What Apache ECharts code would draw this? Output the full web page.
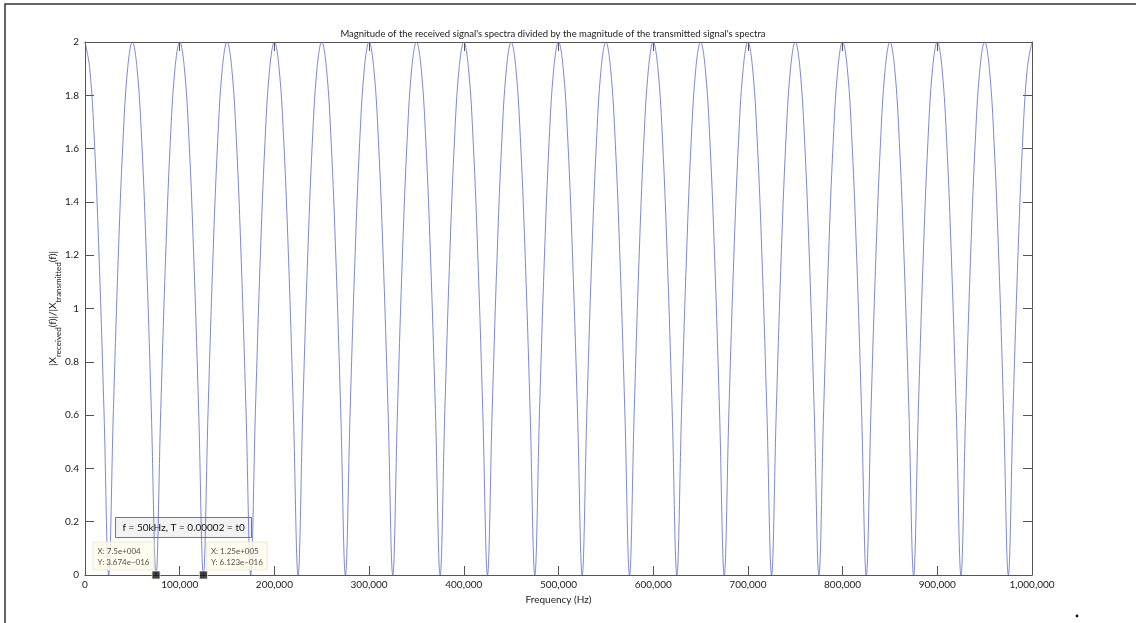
<!DOCTYPE html>
<html>
<head>
<meta charset="utf-8">
<script src="https://cdn.jsdelivr.net/npm/echarts@6/dist/echarts.min.js"></script>
<style>html,body{margin:0;padding:0;background:#fff}#c{width:1136px;height:623px}</style>
</head>
<body>
<div id="c"></div>
<script>
const titleText = "Magnitude of the received signal's spectra divided by the magnitude of the transmitted signal's spectra";
const xTickValues = [0, 100000, 200000, 300000, 400000, 500000, 600000, 700000, 800000, 900000, 1000000];
const yTickValues = [0, 0.2, 0.4, 0.6, 0.8, 1, 1.2, 1.4, 1.6, 1.8, 2];
const freqHz = [
  0,5000,10000,15000,20000,25000,30000,35000,40000,45000,
  50000,55000,60000,65000,70000,75000,80000,85000,90000,95000,
  100000,105000,110000,115000,120000,125000,130000,135000,140000,145000,
  150000,155000,160000,165000,170000,175000,180000,185000,190000,195000,
  200000,205000,210000,215000,220000,225000,230000,235000,240000,245000,
  250000,255000,260000,265000,270000,275000,280000,285000,290000,295000,
  300000,305000,310000,315000,320000,325000,330000,335000,340000,345000,
  350000,355000,360000,365000,370000,375000,380000,385000,390000,395000,
  400000,405000,410000,415000,420000,425000,430000,435000,440000,445000,
  450000,455000,460000,465000,470000,475000,480000,485000,490000,495000,
  500000,505000,510000,515000,520000,525000,530000,535000,540000,545000,
  550000,555000,560000,565000,570000,575000,580000,585000,590000,595000,
  600000,605000,610000,615000,620000,625000,630000,635000,640000,645000,
  650000,655000,660000,665000,670000,675000,680000,685000,690000,695000,
  700000,705000,710000,715000,720000,725000,730000,735000,740000,745000,
  750000,755000,760000,765000,770000,775000,780000,785000,790000,795000,
  800000,805000,810000,815000,820000,825000,830000,835000,840000,845000,
  850000,855000,860000,865000,870000,875000,880000,885000,890000,895000,
  900000,905000,910000,915000,920000,925000,930000,935000,940000,945000,
  950000,955000,960000,965000,970000,975000,980000,985000,990000,995000,
  1000000
];
const magnitudeRatio = [
  2,1.90,1.62,1.18,0.62,0,0.62,1.18,1.62,1.90,
  2,1.90,1.62,1.18,0.62,0,0.62,1.18,1.62,1.90,
  2,1.90,1.62,1.18,0.62,0,0.62,1.18,1.62,1.90,
  2,1.90,1.62,1.18,0.62,0,0.62,1.18,1.62,1.90,
  2,1.90,1.62,1.18,0.62,0,0.62,1.18,1.62,1.90,
  2,1.90,1.62,1.18,0.62,0,0.62,1.18,1.62,1.90,
  2,1.90,1.62,1.18,0.62,0,0.62,1.18,1.62,1.90,
  2,1.90,1.62,1.18,0.62,0,0.62,1.18,1.62,1.90,
  2,1.90,1.62,1.18,0.62,0,0.62,1.18,1.62,1.90,
  2,1.90,1.62,1.18,0.62,0,0.62,1.18,1.62,1.90,
  2,1.90,1.62,1.18,0.62,0,0.62,1.18,1.62,1.90,
  2,1.90,1.62,1.18,0.62,0,0.62,1.18,1.62,1.90,
  2,1.90,1.62,1.18,0.62,0,0.62,1.18,1.62,1.90,
  2,1.90,1.62,1.18,0.62,0,0.62,1.18,1.62,1.90,
  2,1.90,1.62,1.18,0.62,0,0.62,1.18,1.62,1.90,
  2,1.90,1.62,1.18,0.62,0,0.62,1.18,1.62,1.90,
  2,1.90,1.62,1.18,0.62,0,0.62,1.18,1.62,1.90,
  2,1.90,1.62,1.18,0.62,0,0.62,1.18,1.62,1.90,
  2,1.90,1.62,1.18,0.62,0,0.62,1.18,1.62,1.90,
  2,1.90,1.62,1.18,0.62,0,0.62,1.18,1.62,1.90,
  2
];
const tipFreq = [75000, 125000];
const tipValue = [0, 0];
const tipLines = [
  ["X: 7.5e+004", "Y: 3.674e\u2212016"],
  ["X: 1.25e+005", "Y: 6.123e\u2212016"]
];
const annotationText = "f = 50kHz, T = 0.00002 = t0";

const FONT = "Lato, 'Noto Sans', sans-serif";
const axisColor = '#555';
const lineData = freqHz.map((f, i) => [f, magnitudeRatio[i]]);
const tipData = tipFreq.map((f, i) => ({
  value: [f, tipValue[i]],
  label: {
    show: true,
    formatter: tipLines[i].join('\n'),
    position: i === 0 ? [-58, -28] : [8, -28]
  }
}));
const fmt = v => v.toLocaleString('en-US');
const tickStyle = {show: true, inside: true, length: 9, lineStyle: {color: axisColor}};
const lineStyleAxis = {show: true, onZero: false, lineStyle: {color: axisColor, width: 1}};

const chart = echarts.init(document.getElementById('c'), null, {renderer: 'canvas'});
chart.setOption({
  animation: false,
  backgroundColor: '#fff',
  title: {
    text: titleText, left: 548, top: 24, textAlign: 'center',
    textStyle: {fontFamily: FONT, fontSize: 9.5, fontWeight: 'normal', color: '#222'}
  },
  grid: {left: 85, right: 104, top: 42, bottom: 48, containLabel: false},
  xAxis: [{
    type: 'value', min: 0, max: 1000000, interval: 100000, position: 'bottom',
    name: 'Frequency (Hz)', nameLocation: 'middle', nameGap: 17,
    nameTextStyle: {fontFamily: FONT, fontSize: 10, color: '#222'},
    axisLine: lineStyleAxis,
    axisTick: tickStyle,
    axisLabel: {fontFamily: FONT, fontSize: 10, color: '#222', margin: 5, formatter: fmt},
    splitLine: {show: false}
  }, {
    type: 'value', min: 0, max: 1000000, interval: 100000, position: 'top',
    axisLine: lineStyleAxis,
    axisTick: tickStyle,
    axisLabel: {show: false}, splitLine: {show: false}
  }],
  yAxis: [{
    type: 'value', min: 0, max: 2, interval: 0.2, position: 'left',
    name: '{m||X}{s|received}{m|(f)|/|X}{s|transmitted}{m|(f)|}',
    nameLocation: 'middle', nameGap: 23, nameRotate: 90, nameMoveOverlap: false,
    nameTextStyle: {
      fontFamily: FONT, color: '#222',
      rich: {
        m: {fontFamily: FONT, fontSize: 10, color: '#222', lineHeight: 14, verticalAlign: 'top'},
        s: {fontFamily: FONT, fontSize: 8, color: '#222', lineHeight: 14, verticalAlign: 'bottom', padding: [8,0,0,0]}
      }
    },
    axisLine: lineStyleAxis,
    axisTick: tickStyle,
    axisLabel: {fontFamily: FONT, fontSize: 10, color: '#222', margin: 6,
      formatter: v => String(Math.round(v * 10) / 10)},
    splitLine: {show: false}
  }, {
    type: 'value', min: 0, max: 2, interval: 0.2, position: 'right',
    axisLine: lineStyleAxis,
    axisTick: tickStyle,
    axisLabel: {show: false}, splitLine: {show: false}
  }],
  series: [{
    type: 'line', xAxisIndex: 0, yAxisIndex: 0, data: lineData,
    showSymbol: false, symbol: 'none', smooth: 0.4,
    lineStyle: {color: '#5a6bc8', width: 0.8}, z: 2
  }, {
    type: 'scatter', xAxisIndex: 0, yAxisIndex: 0, data: tipData,
    symbol: 'rect', symbolSize: 8,
    itemStyle: {color: '#111', borderColor: '#f4efd0', borderWidth: 1},
    label: {
      show: true, fontFamily: FONT, fontSize: 8, color: '#222', lineHeight: 11,
      backgroundColor: '#fffbec', borderColor: '#eee8cc', borderWidth: 1,
      padding: [3, 4, 2, 4], align: 'left'
    },
    z: 5
  }],
  graphic: [
    {type: 'rect', shape: {x: 5, y: 4, width: 1140, height: 640},
      style: {fill: 'none', stroke: '#333', lineWidth: 1.5}, silent: true},
    {type: 'group', left: 115, top: 517, children: [
      {type: 'rect', shape: {x: 0, y: 0, width: 136, height: 20},
        style: {fill: '#f3f3f3', stroke: '#777', lineWidth: 1}},
      {type: 'text', x: 7, y: 10,
        style: {text: annotationText, font: '10px ' + FONT, fill: '#111', verticalAlign: 'middle'}}
    ]},
    {type: 'circle', shape: {cx: 1077, cy: 616, r: 1.4}, style: {fill: '#111'}}
  ]
});
</script>
</body>
</html>
